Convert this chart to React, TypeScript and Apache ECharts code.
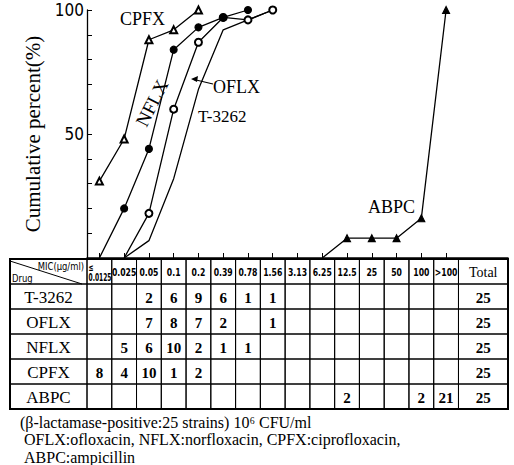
import React, { useEffect, useRef } from "react";
import * as echarts from "echarts";

// ---------- data ----------
const micLabels = ["≤\n0.0125", "0.025", "0.05", "0.1", "0.2", "0.39", "0.78", "1.56", "3.13", "6.25", "12.5", "25", "50", "100", ">100"];
const axisCats = [...micLabels, "Total", ""]; // Total column spans two slots
const rowCats = ["header", "T-3262", "OFLX", "NFLX", "CPFX", "ABPC"];
const drugs = ["T-3262", "OFLX", "NFLX", "CPFX", "ABPC"];

// cumulative percent
const t3262Cum = [null, 0, 7, 32, 68, 92, 96, 100];
const oflxCum = [null, 0, 18, 60, 87, 97, 96, 100];
const nflxCum = [0, 20, 44, 84, 93, 97, 100];
const cpfxCum = [31, 48, 88, 92, 100];
const abpcCum = [null, null, null, null, null, null, null, null, null, 0, 8, 8, 8, 16, 100];

// strain counts in the table
const t3262Counts = [null, null, 2, 6, 9, 6, 1, 1];
const oflxCounts = [null, null, 7, 8, 7, 2, null, 1];
const nflxCounts = [null, 5, 6, 10, 2, 1, 1];
const cpfxCounts = [8, 4, 10, 1, 2];
const abpcCounts = [null, null, null, null, null, null, null, null, null, null, 2, null, null, 2, 21];
const totals = [25, 25, 25, 25, 25];
const countRows = [t3262Counts, oflxCounts, nflxCounts, cpfxCounts, abpcCounts];

const yTickLabels = [50, 100];

const footnotes = [
  "(β-lactamase-positive:25 strains) 10⁶ CFU/ml",
  "OFLX:ofloxacin, NFLX:norfloxacin, CPFX:ciprofloxacin,",
  "ABPC:ampicillin",
];

const SERIF = "'Liberation Serif', 'DejaVu Serif', serif";
const NARROW = "'Liberation Sans Narrow', 'DejaVu Sans Condensed', 'Liberation Sans', sans-serif";

type Cell = { col: number; row: number; text: string; kind: string };

function buildCells(): Cell[] {
  const cells: Cell[] = [];
  cells.push({ col: -1, row: 0, text: "", kind: "corner" });
  micLabels.forEach((m, i) => cells.push({ col: i, row: 0, text: m, kind: "mic" }));
  cells.push({ col: 15, row: 0, text: "Total", kind: "total" });
  drugs.forEach((d, r) => {
    cells.push({ col: -1, row: r + 1, text: d, kind: "name" });
    for (let c = 0; c < micLabels.length; c++) {
      const v = countRows[r][c];
      cells.push({ col: c, row: r + 1, text: v == null ? "" : String(v), kind: "num" });
    }
    cells.push({ col: 15, row: r + 1, text: String(totals[r]), kind: "num" });
  });
  return cells;
}

const toLineData = (arr: (number | null)[]) =>
  arr.map((v) => (v === null ? "-" : v === 0 ? { value: 0, symbol: "none" } : v));

export default function App() {
  const ref = useRef<HTMLDivElement>(null);
  useEffect(() => {
    document.body.style.margin = "0";
    const chart = echarts.init(ref.current!, null, { renderer: "svg" });
    const cells = buildCells();
    const DRUG_COL_W = 77;

    const lineBase = {
      type: "line",
      xAxisIndex: 0,
      yAxisIndex: 0,
      lineStyle: { color: "#000", width: 1.3 },
      itemStyle: { color: "#000", borderColor: "#000", borderWidth: 1.1 },
      symbolSize: 7,
      connectNulls: false,
      z: 3,
    };

    const option: any = {
      animation: false,
      backgroundColor: "#fff",
      grid: [
        { left: 87, right: 6, top: 10, height: 248 },
        { left: 87, right: 6, top: 259, height: 150 },
      ],
      xAxis: [
        {
          gridIndex: 0,
          type: "category",
          data: axisCats,
          boundaryGap: true,
          axisLine: { show: true, lineStyle: { color: "#000", width: 1.5 } },
          axisTick: {
            show: true,
            inside: true,
            length: 5,
            alignWithLabel: true,
            interval: (index: number) => index < micLabels.length,
            lineStyle: { color: "#000" },
          },
          axisLabel: { show: false },
          splitLine: { show: false },
        },
        {
          gridIndex: 1,
          type: "category",
          data: axisCats,
          boundaryGap: true,
          show: false,
        },
      ],
      yAxis: [
        {
          gridIndex: 0,
          type: "value",
          min: 0,
          max: 100,
          interval: 10,
          axisLine: { show: true, lineStyle: { color: "#000", width: 1.3 } },
          axisTick: { show: true, inside: true, length: 5, lineStyle: { color: "#000" } },
          axisLabel: {
            margin: 3,
            color: "#000",
            fontSize: 17,
            fontFamily: NARROW,
            formatter: (v: number) => (yTickLabels.includes(v) ? String(v) : ""),
          },
          splitLine: { show: false },
          name: "Cumulative percent(%)",
          nameLocation: "middle",
          nameRotate: 90,
          nameGap: 38,
          nameTextStyle: { color: "#000", fontSize: 21, fontFamily: SERIF },
        },
        {
          gridIndex: 1,
          type: "category",
          data: rowCats,
          inverse: true,
          show: false,
        },
      ],
      series: [
        { ...lineBase, name: "T-3262", data: toLineData(t3262Cum), symbol: "none" },
        { ...lineBase, name: "OFLX", data: toLineData(oflxCum), symbol: "emptyCircle" },
        { ...lineBase, name: "NFLX", data: toLineData(nflxCum), symbol: "circle" },
        { ...lineBase, name: "CPFX", data: toLineData(cpfxCum), symbol: "emptyTriangle" },
        { ...lineBase, name: "ABPC", data: toLineData(abpcCum), symbol: "triangle", symbolSize: 7 },
        {
          type: "custom",
          name: "table",
          xAxisIndex: 1,
          yAxisIndex: 1,
          clip: false,
          data: cells.map((c) => [Math.max(c.col, 0), c.row]),
          renderItem: (params: any, api: any) => {
            const cell = cells[params.dataIndex];
            const cs = params.coordSys;
            const w = cs.width / axisCats.length;
            const h = cs.height / rowCats.length;
            const c = api.coord([Math.max(cell.col, 0), cell.row]);
            let x0: number, x1: number;
            if (cell.col < 0) {
              x1 = c[0] - w / 2;
              x0 = cs.x - DRUG_COL_W;
            } else {
              x0 = c[0] - w / 2;
              x1 = x0 + w * (cell.col === 15 ? 2 : 1);
            }
            const y0 = c[1] - h / 2;
            const children: any[] = [
              {
                type: "rect",
                shape: { x: x0, y: y0, width: x1 - x0, height: h },
                style: { fill: "none", stroke: "#000", lineWidth: 1 },
              },
            ];
            const cx = (x0 + x1) / 2;
            const cy = c[1];
            if (cell.kind === "corner") {
              children.push({
                type: "line",
                shape: { x1: x0, y1: y0 + 2, x2: x1 - 5, y2: y0 + h },
                style: { stroke: "#000", lineWidth: 1 },
              });
              children.push({
                type: "text",
                x: x1 - 3,
                y: y0 + 7,
                scaleX: 0.85,
                style: { text: "MIC(μg/ml)", x: 0, y: 0, align: "right", verticalAlign: "middle", fontSize: 11, fontFamily: NARROW, fill: "#000" },
              });
              children.push({
                type: "text",
                x: x0 + 2,
                y: y0 + h - 6,
                scaleX: 0.85,
                style: { text: "Drug", x: 0, y: 0, align: "left", verticalAlign: "middle", fontSize: 11, fontFamily: NARROW, fill: "#000" },
              });
              // outer border of the whole table
              children.push({
                type: "rect",
                shape: { x: cs.x - DRUG_COL_W, y: cs.y, width: cs.width + DRUG_COL_W, height: cs.height },
                style: { fill: "none", stroke: "#000", lineWidth: 2 },
              });
            } else if (cell.text) {
              if (cell.kind === "mic") {
                const multi = cell.text.indexOf("\n") >= 0;
                children.push({
                  type: "text",
                  x: multi ? x0 + 1.5 : cx,
                  y: cy + 1,
                  scaleX: multi ? 0.66 : 0.78,
                  style: {
                    text: cell.text,
                    x: 0,
                    y: 0,
                    align: multi ? "left" : "center",
                    verticalAlign: "middle",
                    fontSize: multi ? 10 : 11,
                    lineHeight: 10,
                    fontFamily: NARROW,
                    fontWeight: "bold",
                    fill: "#000",
                  },
                });
              } else {
                let style: any = { fill: "#000", align: "center", verticalAlign: "middle", x: cx, y: cy + 1 };
                if (cell.kind === "total") {
                  style = { ...style, fontSize: 14, fontFamily: SERIF };
                } else if (cell.kind === "name") {
                  style = { ...style, fontSize: 17, fontFamily: SERIF };
                } else {
                  style = { ...style, fontSize: 15, fontFamily: SERIF, fontWeight: "bold" };
                }
                children.push({ type: "text", style: { ...style, text: cell.text } });
              }
            }
            return { type: "group", children };
          },
          z: 2,
        },
      ],
      graphic: [
        { type: "text", left: 120, top: 10, style: { text: "CPFX", fontSize: 18, fontFamily: SERIF, fill: "#000" } },
        {
          type: "text",
          x: 152,
          y: 103,
          rotation: (63 * Math.PI) / 180,
          style: { text: "NFLX", fontSize: 19, fontFamily: SERIF, fill: "#000", align: "center", verticalAlign: "middle" },
        },
        { type: "text", left: 213, top: 78, style: { text: "OFLX", fontSize: 18, fontFamily: SERIF, fill: "#000" } },
        { type: "line", shape: { x1: 213, y1: 84, x2: 194, y2: 79.5 }, style: { stroke: "#000", lineWidth: 1.2 } },
        { type: "polygon", shape: { points: [[191, 79], [198, 76], [197, 82]] }, style: { fill: "#000" } },
        { type: "text", left: 198, top: 108, style: { text: "T-3262", fontSize: 17, fontFamily: SERIF, fill: "#000" } },
        { type: "text", left: 368, top: 198, style: { text: "ABPC", fontSize: 18, fontFamily: SERIF, fill: "#000" } },
        ...footnotes.map((t, i) => ({
          type: "text",
          left: i === 0 ? 20 : 24,
          top: 413.5 + i * 17.5,
          style: { text: t, fontSize: 16, lineHeight: 17, fontFamily: SERIF, fill: "#000" },
        })),
      ],
    };
    chart.setOption(option);
    return () => chart.dispose();
  }, []);
  return <div ref={ref} style={{ width: 514, height: 465 }} />;
}
